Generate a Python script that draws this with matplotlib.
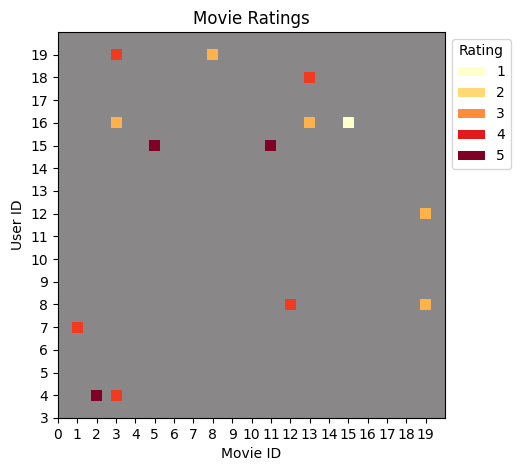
import matplotlib
matplotlib.use("Agg")
import matplotlib.pyplot as plt
from matplotlib.patches import Patch

movie_ids = [3, 8, 13, 3, 13, 15, 5, 11, 19, 12, 19, 1, 2, 3]
user_ids = [19, 19, 18, 16, 16, 16, 15, 15, 12, 8, 8, 7, 4, 4]
ratings = [4, 2, 4, 2, 2, 1, 5, 5, 2, 4, 2, 4, 5, 4]

rating_levels = [1, 2, 3, 4, 5]
marker_colors = {1: "#ffffcc", 2: "#feb24c", 3: "#fd8d3c", 4: "#f03b20", 5: "#800026"}
legend_colors = ["#ffffcc", "#fed976", "#fd8d3c", "#e31a1c", "#800026"]

x_ticks = list(range(0, 20))
y_ticks = list(range(3, 20))

fig = plt.figure(figsize=(5.2, 4.7), dpi=100)
ax = fig.add_axes([58/520, 1 - 418/470, 387/520, 386/470])
ax.set_facecolor("#898787")

ax.scatter(movie_ids, user_ids, c=[marker_colors[r] for r in ratings],
           marker="s", s=62, edgecolors="none", zorder=3)

ax.set_xlim(0, 20)
ax.set_ylim(3, 20)
ax.set_xticks(x_ticks)
ax.set_yticks(y_ticks)
ax.set_xlabel("Movie ID")
ax.set_ylabel("User ID")
ax.set_title("Movie Ratings")

handles = [Patch(facecolor=c, label=str(r)) for r, c in zip(rating_levels, legend_colors)]
ax.legend(handles=handles, title="Rating", loc="upper left", bbox_to_anchor=(1.0, 1.0))

fig.savefig("out.png", dpi=100)
